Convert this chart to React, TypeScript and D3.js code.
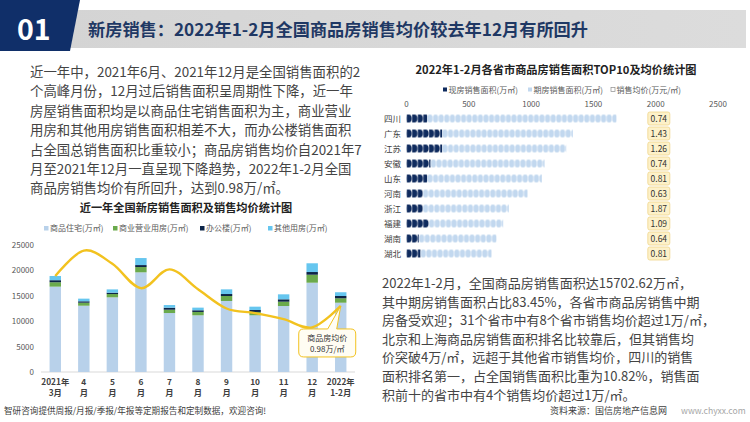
import React from 'react';
import * as d3 from 'd3';

const FONT = '"Noto Sans CJK SC", "Noto Sans", sans-serif';

// ---------- Left chart data ----------
const monthTop = ['2021年', '4', '5', '6', '7', '8', '9', '10', '11', '12', '2022年'];
const monthBottom = ['3月', '月', '月', '月', '月', '月', '月', '月', '月', '月', '1-2月'];
const residential = [16800, 13050, 14700, 19620, 11610, 11160, 13980, 11160, 12990, 17580, 13640];
const commercial = [870, 590, 650, 1040, 650, 660, 980, 660, 850, 1570, 870];
const office = [400, 280, 260, 390, 390, 330, 390, 390, 470, 530, 450];
const otherUse = [830, 520, 650, 1380, 530, 520, 920, 650, 980, 1720, 740];
const avgPrice = [1.039, 1.089, 1.063, 1.015, 1.052, 1.013, 0.975, 0.966, 0.954, 0.938, 0.98];
const leftYTicks = [0, 5000, 10000, 15000, 20000, 25000];
const leftSeriesNames = ['商品住宅(万㎡)', '商业营业用房(万㎡)', '办公楼(万㎡)', '其他用房(万㎡)'];

// ---------- Right chart data ----------
const provinces = ['四川', '广东', '江苏', '安徽', '山东', '河南', '浙江', '福建', '湖南', '湖北'];
const spotArea = [166, 286, 286, 193, 166, 131, 131, 179, 99, 112];
const futureArea = [1519, 1049, 996, 915, 920, 840, 690, 597, 623, 570];
const provincePrice = [0.74, 1.43, 1.26, 0.74, 0.81, 0.63, 1.87, 1.09, 0.64, 0.81];
const rightXTicks = [0, 500, 1000, 1500, 2000, 2500];
const rightLegend = ['现房销售面积(万㎡)', '期房销售面积(万㎡)', '销售均价(万元/㎡)'];

// ---------- Texts ----------
const headerNo = '01';
const headerTitle = '新房销售：2022年1-2月全国商品房销售均价较去年12月有所回升';
const leftTitle = '近一年全国新房销售面积及销售均价统计图';
const rightTitle = '2022年1-2月各省市商品房销售面积TOP10及均价统计图';
const calloutLines = ['商品房均价', '0.98万/㎡'];
const leftParagraph = [
  '近一年中，2021年6月、2021年12月是全国销售面积的2',
  '个高峰月份，12月过后销售面积呈周期性下降，近一年',
  '房屋销售面积均是以商品住宅销售面积为主，商业营业',
  '用房和其他用房销售面积相差不大，而办公楼销售面积',
  '占全国总销售面积比重较小；商品房销售均价自2021年7',
  '月至2021年12月一直呈现下降趋势，2022年1-2月全国',
  '商品房销售均价有所回升，达到0.98万/㎡。',
];
const rightParagraph = [
  '2022年1-2月，全国商品房销售面积达15702.62万㎡，',
  '其中期房销售面积占比83.45%，各省市商品房销售中期',
  '房备受欢迎；31个省市中有8个省市销售均价超过1万/㎡，',
  '北京和上海商品房销售面积排名比较靠后，但其销售均',
  '价突破4万/㎡，远超于其他省市销售均价，四川的销售',
  '面积排名第一，占全国销售面积比重为10.82%，销售面',
  '积前十的省市中有4个销售均价超过1万/㎡。',
];
const footerLeft = '智研咨询提供周报/月报/季报/年报等定期报告和定制数据，欢迎咨询!';
const footerSource = '资料来源：国信房地产信息网';
const footerUrl = 'www.chyxx.com';

const C_RES = '#b8d1ea';
const C_COM = '#6aaa4c';
const C_OFF = '#0c2447';
const C_OTH = '#66c6ef';
const C_LINE = '#f2c21f';
const C_NAVY = '#102f69';
const C_SPOT = '#0f2b5e';
const C_FUT = '#c2d8ef';

export default function App() {
  // ----- Left chart scales -----
  const idx = d3.range(monthTop.length);
  const x = d3.scaleBand<number>().domain(idx).range([41, 355]).paddingInner(0.6).paddingOuter(0.3);
  const y = d3.scaleLinear().domain([0, 25000]).range([372, 245]);
  const y2 = d3.scaleLinear().domain([0.85, 1.1]).range([372, 245]);
  const bw = x.bandwidth();
  const rows = idx.map((i) => ({
    residential: residential[i],
    commercial: commercial[i],
    office: office[i],
    other: otherUse[i],
  }));
  const keys = ['residential', 'commercial', 'office', 'other'];
  const colors = [C_RES, C_COM, C_OFF, C_OTH];
  const stacked = d3.stack<any>().keys(keys)(rows);
  const linePath = d3
    .line<number>()
    .x((d, i) => (x(i) as number) + bw / 2)
    .y((d) => y2(d))
    .curve(d3.curveCardinal.tension(0))(avgPrice) as string;

  // callout
  const last = avgPrice.length - 1;
  const px = (x(last) as number) + bw / 2;
  const py = y2(avgPrice[last]);
  const bx0 = px - 42;
  const bx1 = px + 15;
  const by0 = py + 23;
  const by1 = py + 51;
  const r = 5;
  const nL = px - 13;
  const nR = px - 4;
  const calloutPath = `M${bx0 + r},${by0} L${nL},${by0} L${px},${py} L${nR},${by0} L${bx1 - r},${by0} Q${bx1},${by0} ${bx1},${by0 + r} L${bx1},${by1 - r} Q${bx1},${by1} ${bx1 - r},${by1} L${bx0 + r},${by1} Q${bx0},${by1} ${bx0},${by1 - r} L${bx0},${by0 + r} Q${bx0},${by0} ${bx0 + r},${by0} Z`;

  // ----- Right chart scales -----
  const xR = d3.scaleLinear().domain([0, 2500]).range([406.5, 718]);
  const yR = d3.scaleBand<string>().domain(provinces).range([111, 261]).paddingInner(0.47).paddingOuter(0.235);
  const bh = yR.bandwidth();
  const PRICE_LABEL_AT = 2025;
  const dotW = 5.6;

  const legendLeftX = [44, 113, 200, 268];
  const legendRightX = [443, 528, 611];

  return (
    <svg
      width={750}
      height={422}
      viewBox="0 0 750 422"
      style={{ position: 'absolute', left: 0, top: 0, background: '#fff', fontFamily: FONT }}
    >
      <defs>
        <linearGradient id="hdrgrad" x1="0" x2="1" y1="0" y2="0">
          <stop offset="0" stopColor="#d4d4d4" />
          <stop offset="1" stopColor="#dcdcdc" />
        </linearGradient>
        {provinces.map((p, i) => (
          <React.Fragment key={p}>
            <pattern id={`ps${i}`} patternUnits="userSpaceOnUse" x={xR(0)} y={yR(p)} width={dotW} height={bh}>
              <path d={`M0.2,0 H2.4 A2.9,${bh / 2} 0 0 1 2.4,${bh} H0.2 Z`} fill={C_SPOT} />
            </pattern>
            <pattern id={`pf${i}`} patternUnits="userSpaceOnUse" x={xR(spotArea[i])} y={yR(p)} width={dotW} height={bh}>
              <rect x={0.3} y={0} width={5} height={bh} rx={2.5} fill={C_FUT} />
            </pattern>
          </React.Fragment>
        ))}
      </defs>
      <rect x={0} y={0} width={750} height={422} fill="#fff" />

      {/* Header */}
      <rect x={60} y={10} width={686} height={38} fill="url(#hdrgrad)" />
      <polygon points="0,0 80,0 70,51 0,51" fill={C_NAVY} />
      <text x={17} y={39.5} fill="#fff" fontSize={28.5} fontWeight={700}>
        {headerNo}
      </text>
      <text x={88} y={35.5} fill="#1f3864" fontSize={17.2} fontWeight={700}>
        {headerTitle}
      </text>

      {/* Left paragraph */}
      {leftParagraph.map((t, i) => (
        <text key={i} x={30} y={77 + i * 19.4} fontSize={13.4} fill="#444">
          {t}
        </text>
      ))}

      {/* Left chart */}
      <text x={186} y={211.5} textAnchor="middle" fontSize={11.2} fontWeight={700} fill="#222">
        {leftTitle}
      </text>
      {leftSeriesNames.map((n, i) => (
        <g key={n}>
          <rect x={legendLeftX[i]} y={226} width={4.5} height={4.5} fill={colors[i]} />
          <text x={legendLeftX[i] + 6} y={231.3} fontSize={8} fill="#595959">
            {n}
          </text>
        </g>
      ))}
      {leftYTicks.map((t) => (
        <text key={t} x={34} y={y(t) + 3} textAnchor="end" fontSize={8} fill="#595959">
          {t}
        </text>
      ))}
      <line x1={41} x2={355} y1={y(0)} y2={y(0)} stroke="#d9d9d9" strokeWidth={1} />
      {stacked.map((s, k) => (
        <g key={keys[k]} fill={colors[k]}>
          {s.map((d, i) => (
            <rect key={i} x={x(i)} y={y(d[1])} width={bw} height={y(d[0]) - y(d[1])} />
          ))}
        </g>
      ))}
      <path d={linePath} fill="none" stroke={C_LINE} strokeWidth={2.4} />
      <path d={calloutPath} fill="#fffdf3" stroke={C_LINE} strokeWidth={1} />
      <text x={(bx0 + bx1) / 2} y={by0 + 12} textAnchor="middle" fontSize={8} fill="#333">
        {calloutLines[0]}
      </text>
      <text x={(bx0 + bx1) / 2} y={by0 + 23} textAnchor="middle" fontSize={8} fill="#333">
        {calloutLines[1]}
      </text>
      {idx.map((i) => (
        <g key={i}>
          <text x={(x(i) as number) + bw / 2} y={384.5} textAnchor="middle" fontSize={8.3} fontWeight={700} fill="#404040">
            {monthTop[i]}
          </text>
          <text x={(x(i) as number) + bw / 2} y={396} textAnchor="middle" fontSize={8.3} fontWeight={700} fill="#404040">
            {monthBottom[i]}
          </text>
        </g>
      ))}

      {/* Right chart */}
      <text x={556} y={74} textAnchor="middle" fontSize={11.2} fontWeight={700} fill="#222">
        {rightTitle}
      </text>
      <rect x={legendRightX[0]} y={87.5} width={4} height={4} fill={C_SPOT} />
      <rect x={legendRightX[1]} y={87.5} width={4} height={4} fill={C_FUT} />
      <rect x={legendRightX[2]} y={87.5} width={4} height={4} fill="#fff" stroke="#8c8c8c" strokeWidth={0.7} />
      {rightLegend.map((n, i) => (
        <text key={n} x={legendRightX[i] + 5.5} y={92.5} fontSize={8} fill="#595959">
          {n}
        </text>
      ))}
      {rightXTicks.map((t) => (
        <text key={t} x={xR(t)} y={107} textAnchor="middle" fontSize={8} fill="#595959">
          {t}
        </text>
      ))}
      {provinces.map((p, i) => (
        <g key={p}>
          <text x={401} y={(yR(p) as number) + bh / 2 + 3} textAnchor="end" fontSize={8.5} fill="#404040">
            {p}
          </text>
          <rect x={xR(0)} y={yR(p)} width={xR(spotArea[i]) - xR(0)} height={bh} fill={`url(#ps${i})`} />
          <rect
            x={xR(spotArea[i])}
            y={yR(p)}
            width={xR(spotArea[i] + futureArea[i]) - xR(spotArea[i])}
            height={bh}
            fill={`url(#pf${i})`}
          />
          <rect
            x={xR(PRICE_LABEL_AT) - 11}
            y={(yR(p) as number) + bh / 2 - 6.5}
            width={22}
            height={13}
            rx={2}
            fill="#fdf1c9"
            stroke="#f0d68a"
            strokeWidth={0.8}
          />
          <text x={xR(PRICE_LABEL_AT)} y={(yR(p) as number) + bh / 2 + 3} textAnchor="middle" fontSize={8.5} fill="#333">
            {provincePrice[i].toFixed(2)}
          </text>
        </g>
      ))}

      {/* Right paragraph */}
      {rightParagraph.map((t, i) => (
        <text key={i} x={382} y={288 + i * 18.6} fontSize={13} fill="#444">
          {t}
        </text>
      ))}

      {/* Footer */}
      <text x={4} y={413.5} fontSize={8.6} fill="#404040">
        {footerLeft}
      </text>
      <text x={550} y={413.5} fontSize={9} fill="#404040">
        {footerSource}
      </text>
      <text x={681} y={413.5} fontSize={8.6} fill="#a6a6a6">
        {footerUrl}
      </text>
    </svg>
  );
}
